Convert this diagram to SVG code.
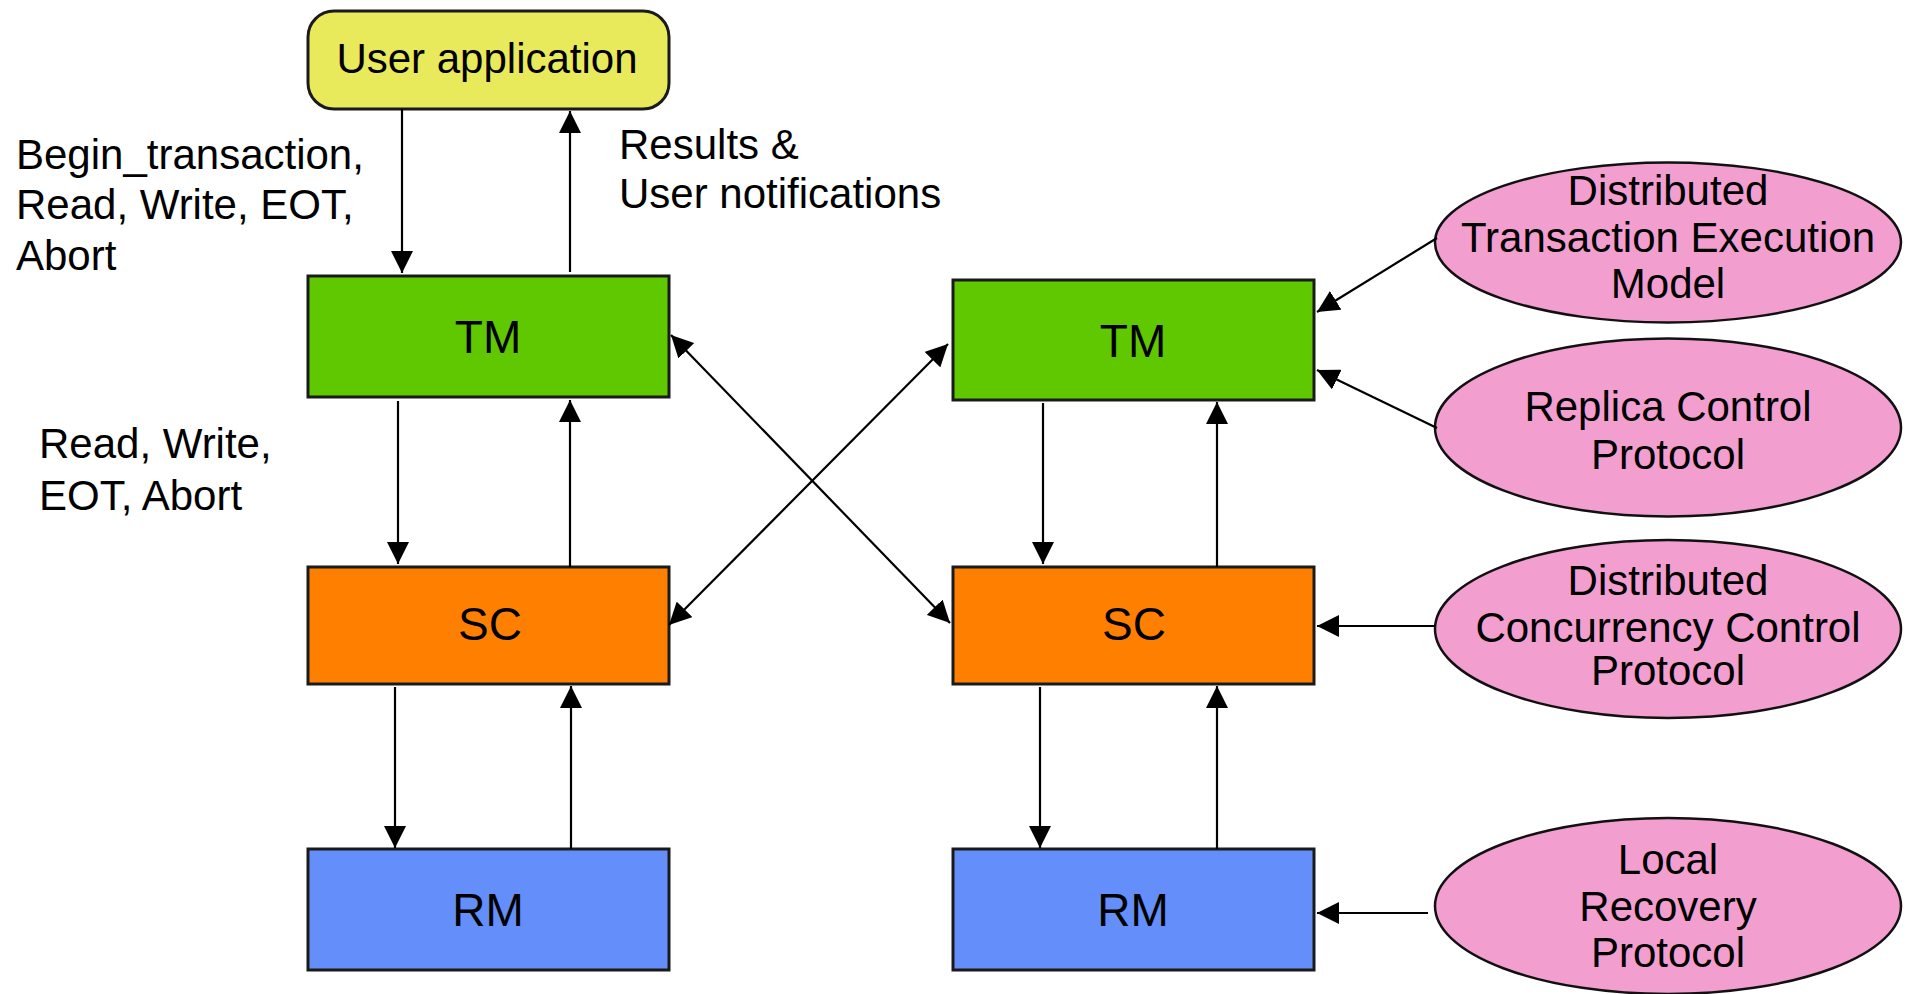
<svg xmlns="http://www.w3.org/2000/svg" width="1911" height="994" viewBox="0 0 1911 994">
<defs>
<marker id="ah" markerUnits="userSpaceOnUse" markerWidth="22" markerHeight="22" refX="22" refY="11" orient="auto-start-reverse" viewBox="0 0 22 22">
<path d="M0,0 L22,11 L0,22 z" fill="#000"/>
</marker>
<style>
.box{stroke:#1a1a1a;stroke-width:3}
.tm{fill:#5fc800}.sc{fill:#ff8000}.rm{fill:#648ffa}
.ua{fill:#e9e95c;stroke:#1a1a1a;stroke-width:3}
.el{fill:#f29ecf;stroke:#111;stroke-width:2.5}
text{font-family:"Liberation Sans",Arial,sans-serif;fill:#000}
.bt{font-size:46px;text-anchor:middle}
.lt{font-size:42px}
.et{font-size:42px;text-anchor:middle}
.c{stroke:#000;stroke-width:2.2;fill:none;marker-end:url(#ah)}
.d{marker-start:url(#ah)}
</style>
</defs>
<rect width="1911" height="994" fill="#fff"/>
<g id="user-app">
<rect class="ua" x="308" y="11" width="361" height="98" rx="26"/>
<text class="bt" x="487" y="73" style="font-size:42px">User application</text>
</g>
<g id="tm-left"><rect class="box tm" x="308" y="276" width="361" height="121"/><text class="bt" x="488" y="353">TM</text></g>
<g id="sc-left"><rect class="box sc" x="308" y="567" width="361" height="117"/><text class="bt" x="490" y="640">SC</text></g>
<g id="rm-left"><rect class="box rm" x="308" y="849" width="361" height="121"/><text class="bt" x="488" y="926">RM</text></g>
<g id="tm-right"><rect class="box tm" x="953" y="280" width="361" height="120"/><text class="bt" x="1133" y="357">TM</text></g>
<g id="sc-right"><rect class="box sc" x="953" y="567" width="361" height="117"/><text class="bt" x="1134" y="640">SC</text></g>
<g id="rm-right"><rect class="box rm" x="953" y="849" width="361" height="121"/><text class="bt" x="1133" y="926">RM</text></g>
<g id="e-dtem"><ellipse class="el" cx="1668" cy="242.5" rx="233" ry="80"/>
<text class="et" x="1668" y="205">Distributed</text><text class="et" x="1668" y="252">Transaction Execution</text><text class="et" x="1668" y="298">Model</text></g>
<g id="e-rcp"><ellipse class="el" cx="1668" cy="427.5" rx="233" ry="89"/>
<text class="et" x="1668" y="421">Replica Control</text><text class="et" x="1668" y="469">Protocol</text></g>
<g id="e-dccp"><ellipse class="el" cx="1668" cy="629" rx="233" ry="89"/>
<text class="et" x="1668" y="595">Distributed</text><text class="et" x="1668" y="642">Concurrency Control</text><text class="et" x="1668" y="685">Protocol</text></g>
<g id="e-lrp"><ellipse class="el" cx="1668" cy="906" rx="233" ry="88"/>
<text class="et" x="1668" y="874">Local</text><text class="et" x="1668" y="921">Recovery</text><text class="et" x="1668" y="967">Protocol</text></g>
<g id="labels">
<text class="lt" x="16" y="169">Begin_transaction,</text>
<text class="lt" x="16" y="219">Read, Write, EOT,</text>
<text class="lt" x="16" y="270">Abort</text>
<text class="lt" x="619" y="159">Results &amp;</text>
<text class="lt" x="619" y="208">User notifications</text>
<text class="lt" x="39" y="458">Read, Write,</text>
<text class="lt" x="39" y="510">EOT, Abort</text>
</g>
<g id="connectors">
<line class="c" x1="402" y1="109" x2="402" y2="273"/>
<line class="c" x1="570" y1="272" x2="570" y2="111"/>
<line class="c" x1="398" y1="401" x2="398" y2="564"/>
<line class="c" x1="570" y1="567" x2="570" y2="400"/>
<line class="c" x1="395" y1="687" x2="395" y2="848"/>
<line class="c" x1="571" y1="849" x2="571" y2="686"/>
<line class="c" x1="1043" y1="403" x2="1043" y2="564"/>
<line class="c" x1="1217" y1="567" x2="1217" y2="402"/>
<line class="c" x1="1040" y1="687" x2="1040" y2="848"/>
<line class="c" x1="1217" y1="849" x2="1217" y2="686"/>
<line class="c d" x1="671" y1="335" x2="950" y2="623"/>
<line class="c d" x1="948" y1="344" x2="669" y2="625"/>
<line class="c" x1="1437" y1="238" x2="1317" y2="312"/>
<line class="c" x1="1437" y1="428" x2="1317" y2="370"/>
<line class="c" x1="1435" y1="626" x2="1317" y2="626"/>
<line class="c" x1="1428" y1="913" x2="1317" y2="913"/>
</g>
</svg>
